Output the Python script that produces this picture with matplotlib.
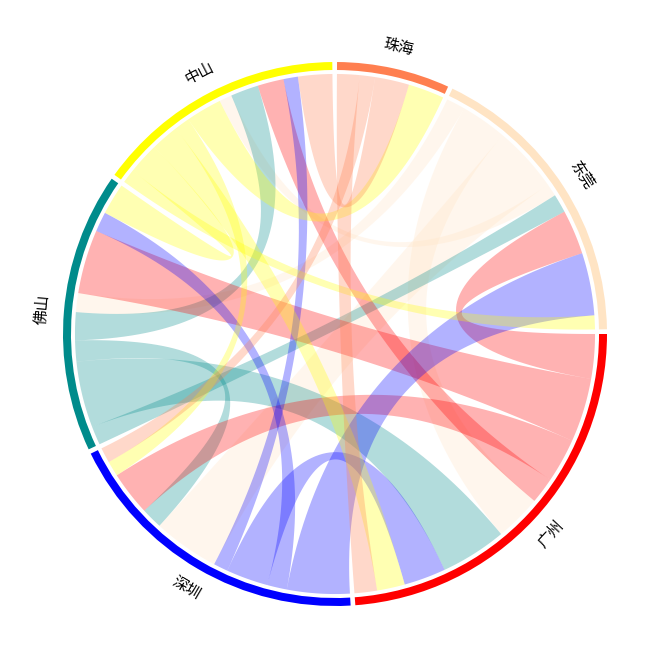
import numpy as np
import matplotlib
matplotlib.use('Agg')
import matplotlib.pyplot as plt
from matplotlib.patches import Polygon, Wedge

plt.rcParams['font.family'] = ['Noto Sans CJK SC', 'DejaVu Sans']

# flow matrix (row = from, column = to), order of the data
cities = ['东莞', '佛山', '广州', '深圳', '中山', '珠海']
from_dongguan = [0, 4.2, 10.3, 14.7, 2.8, 0]
from_foshan = [4.15, 0, 14.7, 4.7, 6.2, 0]
from_guangzhou = [9.9, 14.2, 0, 9.8, 5.8, 0]
from_shenzhen = [13.9, 4.4, 9.3, 0, 3.2, 0]
from_zhongshan = [3.1, 7.0, 6.2, 3.4, 0, 8.0]
from_zhuhai = [0, 0, 5.0, 3.4, 7.6, 0]

# order of the sectors round the circle (clockwise from 0 deg)
sector_order = ['广州', '深圳', '佛山', '中山', '珠海', '东莞']
grid_col = {'广州': '#FF0000', '深圳': '#0000FF', '佛山': '#008B8B',
            '中山': '#FFFF00', '珠海': '#FF7F50', '东莞': '#FFE4C4'}

mat = np.array([from_dongguan, from_foshan, from_guangzhou,
                from_shenzhen, from_zhongshan, from_zhuhai])
n = len(cities)
gap = 1.0
scale = (360 - n * gap) / (2 * mat.sum())

r_link = 0.956
r_track_in, r_track_out = 0.9706, 1.0

fig = plt.figure(figsize=(6.72, 6.71), dpi=100)
ax = fig.add_axes([0, 0, 1, 1])
ax.set_xlim(-335 / 272, 337 / 272)
ax.set_ylim(-337 / 272, 334 / 272)
ax.axis('off')

# layout: positions in clockwise degrees from 0
sector_span = {}
out_pos = {}
in_pos = {}
cur = 0.0
for s in sector_order:
    i = cities.index(s)
    start = cur
    for j in range(n):
        if mat[i, j] > 0:
            w = mat[i, j] * scale
            out_pos[(i, j)] = (cur, cur + w)
            cur += w
    for j in range(n):
        if mat[j, i] > 0:
            w = mat[j, i] * scale
            in_pos[(j, i)] = (cur, cur + w)
            cur += w
    sector_span[s] = (start, cur)
    cur += gap


def pt(cw, r=r_link):
    a = np.deg2rad(-cw)
    return np.array([r * np.cos(a), r * np.sin(a)])


def arc(c1, c2, r=r_link):
    a = np.deg2rad(-np.linspace(c1, c2, 40))
    return np.column_stack([r * np.cos(a), r * np.sin(a)])


def bez(p0, p2):
    t = np.linspace(0, 1, 60)[:, None]
    return (1 - t) ** 2 * p0 + t ** 2 * p2


# links, coloured by the source sector
z = 1
for i in range(n):
    for j in range(n):
        if mat[i, j] <= 0:
            continue
        a1, a2 = out_pos[(i, j)]
        b1, b2 = in_pos[(i, j)]
        verts = np.vstack([arc(a1, a2), bez(pt(a2), pt(b1)),
                           arc(b1, b2), bez(pt(b2), pt(a1))])
        ax.add_patch(Polygon(verts, closed=True, facecolor=grid_col[cities[i]],
                             alpha=0.3, edgecolor='none', lw=0, zorder=z))
        z += 1

# outer track and labels
for s in sector_order:
    c1, c2 = sector_span[s]
    ax.add_patch(Wedge((0, 0), r_track_out, -c2, -c1, width=r_track_out - r_track_in,
                       facecolor=grid_col[s], edgecolor='none', zorder=100))
    mid = -(c1 + c2) / 2 % 360
    rot = mid - 90 if 0 < mid < 180 else mid + 90
    a = np.deg2rad(mid)
    ax.text(1.08 * np.cos(a), 1.08 * np.sin(a), s, rotation=rot,
            rotation_mode='anchor', ha='center', va='center', fontsize=11,
            zorder=101)

fig.savefig('out.png', dpi=100)
